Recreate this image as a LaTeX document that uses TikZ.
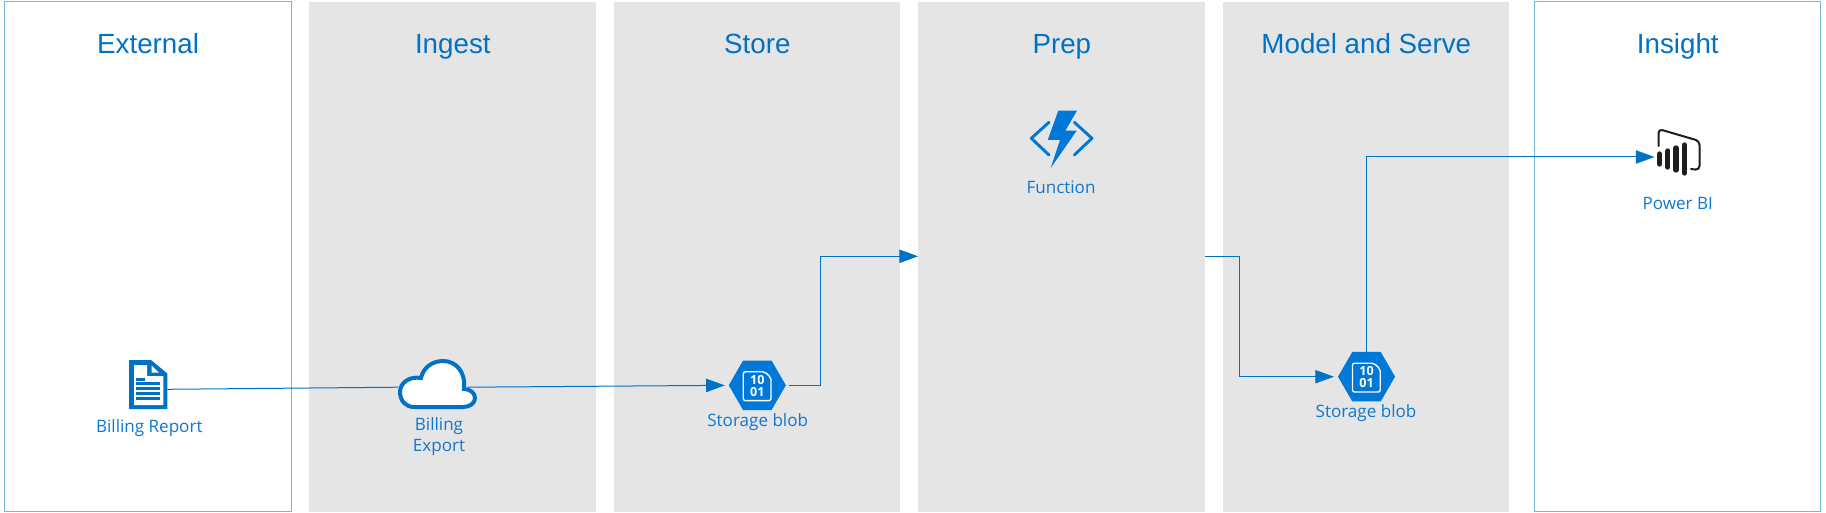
\documentclass[tikz,border=0pt]{standalone}
\usepackage{fontspec}
\setmainfont{Open Sans}
\newfontfamily\titlefont{Liberation Sans}
\usetikzlibrary{positioning, arrows.meta, calc, shapes.geometric}

\definecolor{azure}{HTML}{0072C6}
\definecolor{azurehex}{HTML}{0078D7}
\definecolor{azuretext}{HTML}{0F78D4}
\definecolor{panelgray}{HTML}{E5E5E5}
\definecolor{panelline}{HTML}{72BAD3}
\definecolor{biblack}{HTML}{1E1E1E}

\tikzset{
    panelbase/.style={rectangle, minimum width=215.2pt, minimum height=382.6pt, inner sep=0pt, outer sep=0pt},
    panelgrey/.style={panelbase, fill=panelgray},
    panelopen/.style={panelbase, draw=panelline, line width=0.75pt},
    paneltitle/.style={font=\titlefont\fontsize{20.8}{24}\selectfont, text=azure, inner sep=0pt, anchor=base},
    iconlabel/.style={font=\fontsize{12.8}{15.75}\selectfont, text=azuretext, align=center, inner sep=0pt},
    blobicon/.style={regular polygon, regular polygon sides=6, minimum size=42.8pt, fill=azurehex, inner sep=0pt, outer sep=0pt},
    iconbox/.style={rectangle, inner sep=0pt, outer sep=0pt},
    digits/.style={font=\bfseries\fontsize{9.4}{8.8}\selectfont, text=white, align=center, inner sep=0pt},
    flowline/.style={draw=azure, line width=0.75pt},
    flow/.style={flowline, -{Triangle[length=14pt, width=10pt]}},
}

\newcommand{\blobglyph}[2]{
    \begin{scope}[shift={(#1)}]
        \draw[white, line width=1pt, rounded corners=1.5pt]
            (-14,-13.5) -- (7.5,-13.5) -- (13.7,-7.5) -- (13.7,15.3) -- (-14,15.3) -- cycle;
        \node[digits] (#2) at (0,0.5) {10\\01};
    \end{scope}
}

\begin{document}
\begin{tikzpicture}[x=0.75pt, y=-0.75pt]
    \useasboundingbox (0,0) rectangle (1826,513);
    \fill[white] (0,0) rectangle (1826,513);

    % swimlanes
    \foreach \lane/\kind/\cx/\label in {
        external/panelopen/147.8/External,
        ingest/panelgrey/452.5/Ingest,
        store/panelgrey/757/Store,
        prep/panelgrey/1061.5/Prep,
        model/panelgrey/1366/Model and Serve,
        insight/panelopen/1677.5/Insight
    }{
        \node[\kind] (\lane) at (\cx, 256.8) {};
        \node[paneltitle] (\lane title) at (\cx+0.3, 54) {\label};
    }

    % icons that the arrows attach to
    \node[iconbox, minimum width=28.7pt, minimum height=36.8pt] (report) at (148.2, 384.5) {};
    \node[iconbox, minimum width=59.2pt, minimum height=37.5pt] (export) at (437.5, 384) {};
    \node[blobicon] (blobin) at (757.3, 385.3) {};
    \node[blobicon] (blobout) at (1366.5, 376.7) {};
    \node[iconbox, minimum width=33pt, minimum height=34.5pt] (powerbi) at (1678.5, 151) {};
    \coordinate (prepin) at (prep.west |- 0,256.3);
    \coordinate (prepout) at (prep.east |- 0,256.3);

    % connectors
    \draw[flowline] ([yshift=-3.6pt]report.east) -- ([yshift=-2.4pt]export.west);
    \draw[flow, shorten >=3pt] ([xshift=-7pt, yshift=-2.4pt]export.east) -- (blobin.west);
    \draw[flow, shorten <=2pt] (blobin.east) -- ++(35,0) |- (prepin);
    \draw[flow, shorten >=3pt] (prepout) -- ++(35,0) |- (blobout.west);
    \draw[flow, shorten >=1.5pt] (blobout.north) |- ([yshift=-4.5pt]powerbi.west);

    % document
    \fill[azure] (129,360) -- (151,360) -- (167.3,373.5) -- (167.3,409) -- (129,409) -- cycle;
    \fill[white] (134,365) -- (147,365) -- (147,376) -- (163.3,376) -- (163.3,405) -- (134,405) -- cycle;
    \fill[white] (151.7,365.7) -- (159,372.7) -- (151.7,372.7) -- cycle;
    \fill[azure] (136,377.7) rectangle (145,380.7);
    \foreach \ly in {382.3,387.3,392,397}{
        \fill[azure] (136,\ly) rectangle (160,\ly+3);
    }

    % cloud
    \draw[fill=white, draw=azure, line width=3pt]
        (414,407) -- (463,407) .. controls (470,407) and (475,403) .. (475,398)
        .. controls (475,393) and (470,389) .. (464,389)
        .. controls (466,372) and (456,361) .. (443,361)
        .. controls (432,361) and (423,368) .. (421,378)
        .. controls (409,376) and (400,383) .. (400,392)
        .. controls (400,401) and (406,407) .. (414,407) -- cycle;

    % blobs
    \blobglyph{blobin}{digitsin}
    \blobglyph{blobout}{digitsout}

    % function
    \fill[azurehex] (1058.3,110.7) -- (1077,110.7) -- (1065.3,130.7) -- (1076.7,130.7)
        -- (1050.7,168) -- (1060,140) -- (1047.7,140) -- cycle;
    \draw[azurehex, line width=2.2pt, line cap=round, line join=round]
        (1049,122.3) -- (1031.3,138.3) -- (1049,155);
    \draw[azurehex, line width=2.2pt, line cap=round, line join=round]
        (1074.3,122.3) -- (1092,138.3) -- (1074.3,155);

    % power bi
    \draw[biblack, line width=1.5pt, line cap=round, rounded corners=3pt]
        (1658.5,146) -- (1658.5,129) -- (1699.5,141) -- (1699.5,170) -- (1691,169);
    \foreach \bx/\btop/\bbot in {1659.5/154/164, 1667.8/151/167, 1676/148/170, 1684.3/145/173}{
        \draw[biblack, line width=4pt, line cap=round] (\bx,\btop) -- (\bx,\bbot);
    }

    % labels
    \node[iconlabel] (reportlabel) at (149.3, 428) {Billing Report};
    \node[iconlabel] (exportlabel) at (439, 436.5) {Billing\\Export};
    \node[iconlabel] (blobinlabel) at (757.7, 422.5) {Storage blob};
    \node[iconlabel] (functionlabel) at (1061, 187) {Function};
    \node[iconlabel] (bloboutlabel) at (1366, 413) {Storage blob};
    \node[iconlabel] (powerbilabel) at (1677.7, 203) {Power BI};
\end{tikzpicture}
\end{document}
